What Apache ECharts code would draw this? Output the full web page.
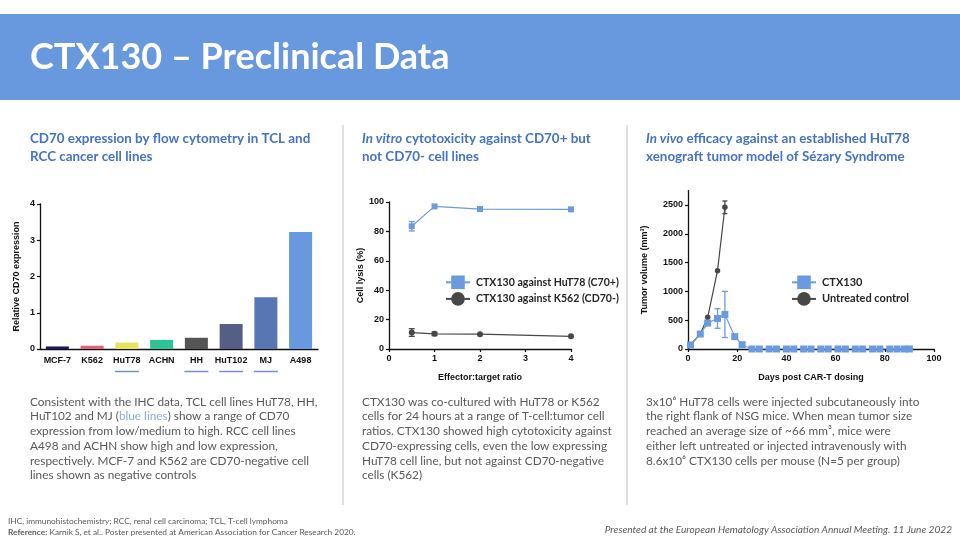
<!DOCTYPE html>
<html><head><meta charset="utf-8">
<script src="https://cdn.jsdelivr.net/npm/echarts@6/dist/echarts.min.js"></script>
<style>html,body{margin:0;padding:0;background:#fff}#c{width:960px;height:540px}</style>
</head><body><div id="c"></div>
<script>
// ---- Chart 1 data: CD70 expression
const cellLines = ['MCF-7', 'K562', 'HuT78', 'ACHN', 'HH', 'HuT102', 'MJ', 'A498'];
const cd70Expression = [0.07, 0.09, 0.18, 0.25, 0.31, 0.69, 1.43, 3.23];
const tclLines = ['HuT78', 'HH', 'HuT102', 'MJ'];
const barColors = ['#16166a', '#e0607e', '#e6e35e', '#2fc495', '#555555', '#555f86', '#5677b3', '#6899de'];
const cd70Ticks = [0, 1, 2, 3, 4];

// ---- Chart 2 data: in vitro cytotoxicity
const etRatio = [0.5, 1, 2, 4];
const lysisHuT78 = [83.5, 97, 95.2, 95];
const lysisHuT78Err = [3.2, 0, 0, 0];
const lysisK562 = [11.2, 10.3, 10.1, 8.6];
const lysisK562Err = [2.6, 1.2, 0, 0];

// ---- Chart 3 data: in vivo tumor volume
const daysCTX = [1, 5, 8, 12, 15, 19, 22, 26, 29, 33, 36, 40, 43, 47, 50, 54, 57, 61, 64, 68, 71, 75, 78, 82, 85, 88, 90];
const volCTX = [70, 260, 450, 530, 600, 215, 75, 0, 0, 0, 0, 0, 0, 0, 0, 0, 0, 0, 0, 0, 0, 0, 0, 0, 0, 0, 0];
const volCTXErr = [0, 0, 0, 170, 400, 0, 0, 0, 0, 0, 0, 0, 0, 0, 0, 0, 0, 0, 0, 0, 0, 0, 0, 0, 0, 0, 0];
const daysCtrl = [1, 5, 8, 12, 15];
const volCtrl = [70, 260, 550, 1360, 2460];
const volCtrlErr = [0, 0, 0, 0, 110];
const volTicks = [0, 500, 1000, 1500, 2000, 2500];

const BLUE = '#6a9be0', DARK = '#474747';
const AX = 'Liberation Sans';
const TXT = 'Lato';

function pairs(xs, ys) { return xs.map((x, i) => [x, ys[i]]); }
function errData(xs, ys, es) {
  const out = [];
  xs.forEach((x, i) => { if (es[i] > 0) out.push([x, ys[i] - es[i], ys[i] + es[i]]); });
  return out;
}
function errRender(color, cap) {
  return function (params, api) {
    const x = api.value(0);
    const lo = api.coord([x, api.value(1)]);
    const hi = api.coord([x, api.value(2)]);
    const h = cap / 2;
    const st = { stroke: color, lineWidth: 1.3 };
    return { type: 'group', children: [
      { type: 'line', shape: { x1: lo[0], y1: lo[1], x2: hi[0], y2: hi[1] }, style: st },
      { type: 'line', shape: { x1: lo[0] - h, y1: lo[1], x2: lo[0] + h, y2: lo[1] }, style: st },
      { type: 'line', shape: { x1: hi[0] - h, y1: hi[1], x2: hi[0] + h, y2: hi[1] }, style: st }
    ] };
  };
}

const axLine = { show: true, lineStyle: { color: '#111', width: 1.3 } };
const axTick = { show: true, length: 3, lineStyle: { color: '#111', width: 1.2 } };
const axLab = { fontFamily: AX, fontWeight: 'bold', fontSize: 9, color: '#111', formatter: v => String(v) };
const axName = { fontFamily: AX, fontWeight: 'bold', fontSize: 9, color: '#111' };

const HS = 13.4;
const headStyle = { fontFamily: TXT, fontWeight: 'bold', fontSize: HS, fill: '#4472c4', lineHeight: 18 };
const BS = 11.8;
const bodyStyle = { fontFamily: TXT, fontSize: BS, fill: '#595959', lineHeight: 14.7 };
const italicHead = { i: { fontFamily: TXT, fontWeight: 'bold', fontStyle: 'italic', fontSize: HS, fill: '#4472c4', lineHeight: 18 } };

const chart = echarts.init(document.getElementById('c'));
chart.setOption({
  backgroundColor: '#fff',
  animation: false,
  grid: [
    { left: 40, right: 642, top: 204, bottom: 191 },
    { left: 389, right: 389, top: 202, bottom: 191 },
    { left: 688, right: 26, top: 190.6, bottom: 191 }
  ],
  xAxis: [
    { gridIndex: 0, type: 'category', data: cellLines,
      axisLine: axLine, axisTick: { show: false },
      axisLabel: { margin: 5, interval: 0,
        formatter: v => tclLines.includes(v) ? '{b|' + v + '}\n{u| }' : '{b|' + v + '}',
        rich: {
          b: { fontFamily: AX, fontWeight: 'bold', fontSize: 9, color: '#111', lineHeight: 14 },
          u: { width: 24, height: 1.5, backgroundColor: '#7393cc', lineHeight: 7, fontSize: 1 }
        } } },
    { gridIndex: 1, type: 'value', min: 0, max: 4, interval: 1,
      axisLine: axLine, axisTick: axTick, axisLabel: Object.assign({ margin: 5 }, axLab),
      splitLine: { show: false },
      name: 'Effector:target ratio', nameLocation: 'middle', nameGap: 24, nameTextStyle: axName },
    { gridIndex: 2, type: 'value', min: 0, max: 100, interval: 20,
      axisLine: axLine, axisTick: axTick, axisLabel: Object.assign({ margin: 5 }, axLab),
      splitLine: { show: false },
      name: 'Days post CAR-T dosing', nameLocation: 'middle', nameGap: 24, nameTextStyle: axName }
  ],
  yAxis: [
    { gridIndex: 0, type: 'value', min: 0, max: 4, interval: 1,
      axisLine: axLine, axisTick: axTick, axisLabel: Object.assign({ margin: 5 }, axLab),
      splitLine: { show: false },
      name: 'Relative CD70 expression', nameLocation: 'middle', nameGap: 19, nameTextStyle: axName },
    { gridIndex: 1, type: 'value', min: 0, max: 100, interval: 20,
      axisLine: axLine, axisTick: axTick, axisLabel: Object.assign({ margin: 5 }, axLab),
      splitLine: { show: false },
      name: 'Cell lysis (%)', nameLocation: 'middle', nameGap: 22, nameTextStyle: axName },
    { gridIndex: 2, type: 'value', min: 0, max: 2750,
      axisLine: axLine,
      axisTick: Object.assign({ customValues: volTicks }, axTick),
      axisLabel: Object.assign({ margin: 5, customValues: volTicks }, axLab),
      splitLine: { show: false },
      name: 'Tumor volume (mm³)', nameLocation: 'middle', nameGap: 39, nameTextStyle: axName }
  ],
  legend: [
    { orient: 'vertical', left: 440, top: 270.5, itemWidth: 24, itemHeight: 17, itemGap: 3,
      data: ['CTX130 against HuT78 (C70+)', 'CTX130 against K562 (CD70-)'],
      textStyle: { fontFamily: TXT, fontWeight: 'bold', fontSize: 10.6, color: '#262626', padding: [0, 0, 0, 1] } },
    { orient: 'vertical', left: 786, top: 270.5, itemWidth: 24, itemHeight: 17, itemGap: 3,
      data: ['CTX130', 'Untreated control'],
      textStyle: { fontFamily: TXT, fontWeight: 'bold', fontSize: 11, color: '#262626', padding: [0, 0, 0, 1] } }
  ],
  series: [
    { type: 'bar', xAxisIndex: 0, yAxisIndex: 0, barWidth: 23,
      data: cd70Expression.map((v, i) => ({ value: v, itemStyle: { color: barColors[i] } })) },

    { type: 'custom', name: 'errHuT78', xAxisIndex: 1, yAxisIndex: 1, z: 3,
      renderItem: errRender(BLUE, 6), data: errData(etRatio, lysisHuT78, lysisHuT78Err) },
    { type: 'custom', name: 'errK562', xAxisIndex: 1, yAxisIndex: 1, z: 3,
      renderItem: errRender(DARK, 6), data: errData(etRatio, lysisK562, lysisK562Err) },
    { type: 'line', name: 'CTX130 against HuT78 (C70+)', xAxisIndex: 1, yAxisIndex: 1,
      data: pairs(etRatio, lysisHuT78), symbol: 'rect', symbolSize: 6,
      lineStyle: { color: BLUE, width: 1.2 }, itemStyle: { color: BLUE } },
    { type: 'line', name: 'CTX130 against K562 (CD70-)', xAxisIndex: 1, yAxisIndex: 1,
      data: pairs(etRatio, lysisK562), symbol: 'circle', symbolSize: 6,
      lineStyle: { color: DARK, width: 1.2 }, itemStyle: { color: DARK } },

    { type: 'custom', name: 'errCTX', xAxisIndex: 2, yAxisIndex: 2, z: 3,
      renderItem: errRender(BLUE, 6), data: errData(daysCTX, volCTX, volCTXErr) },
    { type: 'custom', name: 'errCtrl', xAxisIndex: 2, yAxisIndex: 2, z: 3,
      renderItem: errRender(DARK, 5), data: errData(daysCtrl, volCtrl, volCtrlErr) },
    { type: 'line', name: 'Untreated control', xAxisIndex: 2, yAxisIndex: 2,
      data: pairs(daysCtrl, volCtrl), symbol: 'circle', symbolSize: 5.5,
      lineStyle: { color: DARK, width: 1.2 }, itemStyle: { color: DARK } },
    { type: 'line', name: 'CTX130', xAxisIndex: 2, yAxisIndex: 2,
      data: pairs(daysCTX, volCTX), symbol: 'rect', symbolSize: 7,
      lineStyle: { color: BLUE, width: 1.2 }, itemStyle: { color: BLUE } }
  ],
  graphic: [
    { type: 'rect', left: 0, top: 14, shape: { width: 960, height: 86 }, style: { fill: '#6899de' }, silent: true },
    { type: 'text', x: 30, y: 57, style: { text: 'CTX130 – Preclinical Data', fontFamily: TXT, fontWeight: 'bold',
        fontSize: 36, fill: '#fff', verticalAlign: 'middle' } },
    { type: 'line', shape: { x1: 343, y1: 125, x2: 343, y2: 505 }, style: { stroke: '#d6d6d6', lineWidth: 1.5 } },
    { type: 'line', shape: { x1: 627, y1: 125, x2: 627, y2: 505 }, style: { stroke: '#d6d6d6', lineWidth: 1.5 } },

    { type: 'text', x: 30, y: 130, style: Object.assign({ text: 'CD70 expression by flow cytometry in TCL and\nRCC cancer cell lines' }, headStyle) },
    { type: 'text', x: 362, y: 130, style: Object.assign({ text: '{i|In vitro} cytotoxicity against CD70+ but\nnot CD70- cell lines',
        rich: italicHead }, headStyle) },
    { type: 'text', x: 646, y: 130, style: Object.assign({ text: '{i|In vivo} efficacy against an established HuT78\nxenograft tumor model of Sézary Syndrome',
        rich: italicHead }, headStyle) },

    { type: 'text', x: 30, y: 394.6, style: Object.assign({
        text: 'Consistent with the IHC data, TCL cell lines HuT78, HH,\nHuT102 and MJ ({b|blue lines}) show a range of CD70\nexpression from low/medium to high. RCC cell lines\nA498 and ACHN show high and low expression,\nrespectively. MCF-7 and K562 are CD70-negative cell\nlines shown as negative controls',
        rich: { b: { fontFamily: TXT, fontSize: BS, fill: '#8eaadc', lineHeight: 14.7 } } }, bodyStyle) },
    { type: 'text', x: 362, y: 394.6, style: Object.assign({
        text: 'CTX130 was co-cultured with HuT78 or K562\ncells for 24 hours at a range of T-cell:tumor cell\nratios. CTX130 showed high cytotoxicity against\nCD70-expressing cells, even the low expressing\nHuT78 cell line, but not against CD70-negative\ncells (K562)' }, bodyStyle) },
    { type: 'text', x: 646, y: 394.6, style: Object.assign({
        text: '3x10⁶ HuT78 cells were injected subcutaneously into\nthe right flank of NSG mice. When mean tumor size\nreached an average size of ~66 mm³, mice were\neither left untreated or injected intravenously with\n8.6x10⁶ CTX130 cells per mouse (N=5 per group)' }, bodyStyle) },

    { type: 'text', x: 8, y: 515.5, style: { text: 'IHC, immunohistochemistry; RCC, renal cell carcinoma; TCL, T-cell lymphoma\n{b|Reference:} Karnik S, et al.. Poster presented at American Association for Cancer Research 2020.',
        fontFamily: TXT, fontSize: 8.3, fill: '#595959', lineHeight: 11,
        rich: { b: { fontFamily: TXT, fontWeight: 'bold', fontSize: 8.3, fill: '#595959', lineHeight: 11 } } } },
    { type: 'text', x: 952, y: 530, style: { text: 'Presented at the European Hematology Association Annual Meeting. 11 June 2022',
        fontFamily: TXT, fontStyle: 'italic', fontSize: 10.1, fill: '#595959', align: 'right', verticalAlign: 'middle' } }
  ]
});
</script></body></html>
